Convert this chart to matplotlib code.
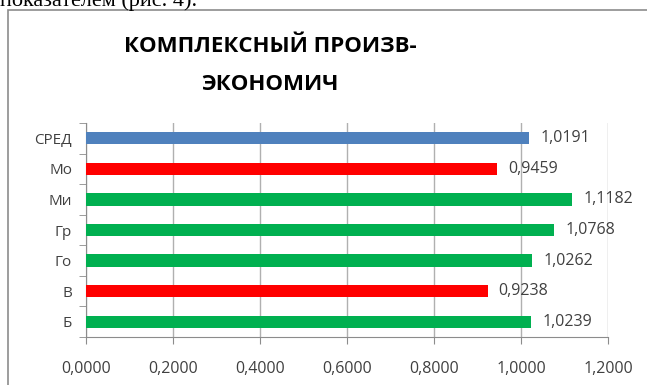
import matplotlib.pyplot as plt
from matplotlib import font_manager
from matplotlib.patches import Rectangle
import numpy as np

categories = ["Б", "В", "Го", "Гр", "Ми", "Мо", "СРЕД"]
values = [1.0239, 0.9238, 1.0262, 1.0768, 1.1182, 0.9459, 1.0191]
colors = ["#00B050", "#FF0000", "#00B050", "#00B050", "#00B050", "#FF0000", "#4F81BD"]
xticks = [0.0, 0.2, 0.4, 0.6, 0.8, 1.0, 1.2]

plt.rcParams["font.family"] = ["Open Sans", "DejaVu Sans"]

names = {f.name for f in font_manager.fontManager.ttflist}
print(sorted(n for n in names if "Narrow" in n or "Condensed" in n))
title_font = "Liberation Sans Narrow" if "Liberation Sans Narrow" in names else "Open Sans"
title_size = 19 if title_font == "Liberation Sans Narrow" else 16

fig = plt.figure(figsize=(6.47, 3.85), dpi=100)
W, H = 647, 385

# frame of the embedded chart
fig.patches.append(Rectangle((8 / W, -0.1), 1.0, (H - 10) / H + 0.1, transform=fig.transFigure,
                             fill=False, edgecolor="#8c8c8c", linewidth=1.2))

# cropped document text above
fig.text(0, 1 - 6 / H, "показателем (рис. 4).", family="Liberation Serif", fontsize=16,
         va="baseline", ha="left", color="black")

ax = fig.add_axes([86 / W, 1 - 337 / H, (608 - 86) / W, (337 - 123) / H])
y = np.arange(len(categories))
ax.barh(y, values, height=0.4, color=colors, zorder=3)
for yi, v in zip(y, values):
    ax.text(v + 0.025, yi, f"{v:.4f}".replace(".", ","), va="center", ha="left",
            fontsize=11.5, color="#404040", zorder=4)

ax.set_xlim(0, 1.2)
ax.set_ylim(-0.5, len(categories) - 0.5)
ax.set_xticks(xticks)
ax.set_xticklabels([f"{t:.4f}".replace(".", ",") for t in xticks], fontsize=11.5, color="#404040")
ax.set_yticks(y)
ax.set_yticklabels(categories, fontsize=11, color="#404040")
ax.set_yticks(np.arange(-0.5, len(categories)), minor=True)
ax.tick_params(axis="y", which="major", length=0, pad=10)
ax.tick_params(axis="y", which="minor", length=5, color="#8c8c8c", direction="out")
ax.tick_params(axis="x", length=5, color="#8c8c8c", direction="out", pad=12)
ax.grid(axis="x", color="#b0b0b0", linewidth=1, zorder=0)
for s in ["top", "right"]:
    ax.spines[s].set_visible(False)
for s in ["left", "bottom"]:
    ax.spines[s].set_color("#8c8c8c")

fig.text(270 / W, 1 - 52 / H, "КОМПЛЕКСНЫЙ ПРОИЗВ-", ha="center", va="baseline",
         family=title_font, fontsize=title_size, fontweight="bold", color="black")
fig.text(270 / W, 1 - 90 / H, "ЭКОНОМИЧ", ha="center", va="baseline",
         family=title_font, fontsize=title_size, fontweight="bold", color="black")

fig.savefig("out.png", dpi=100)
